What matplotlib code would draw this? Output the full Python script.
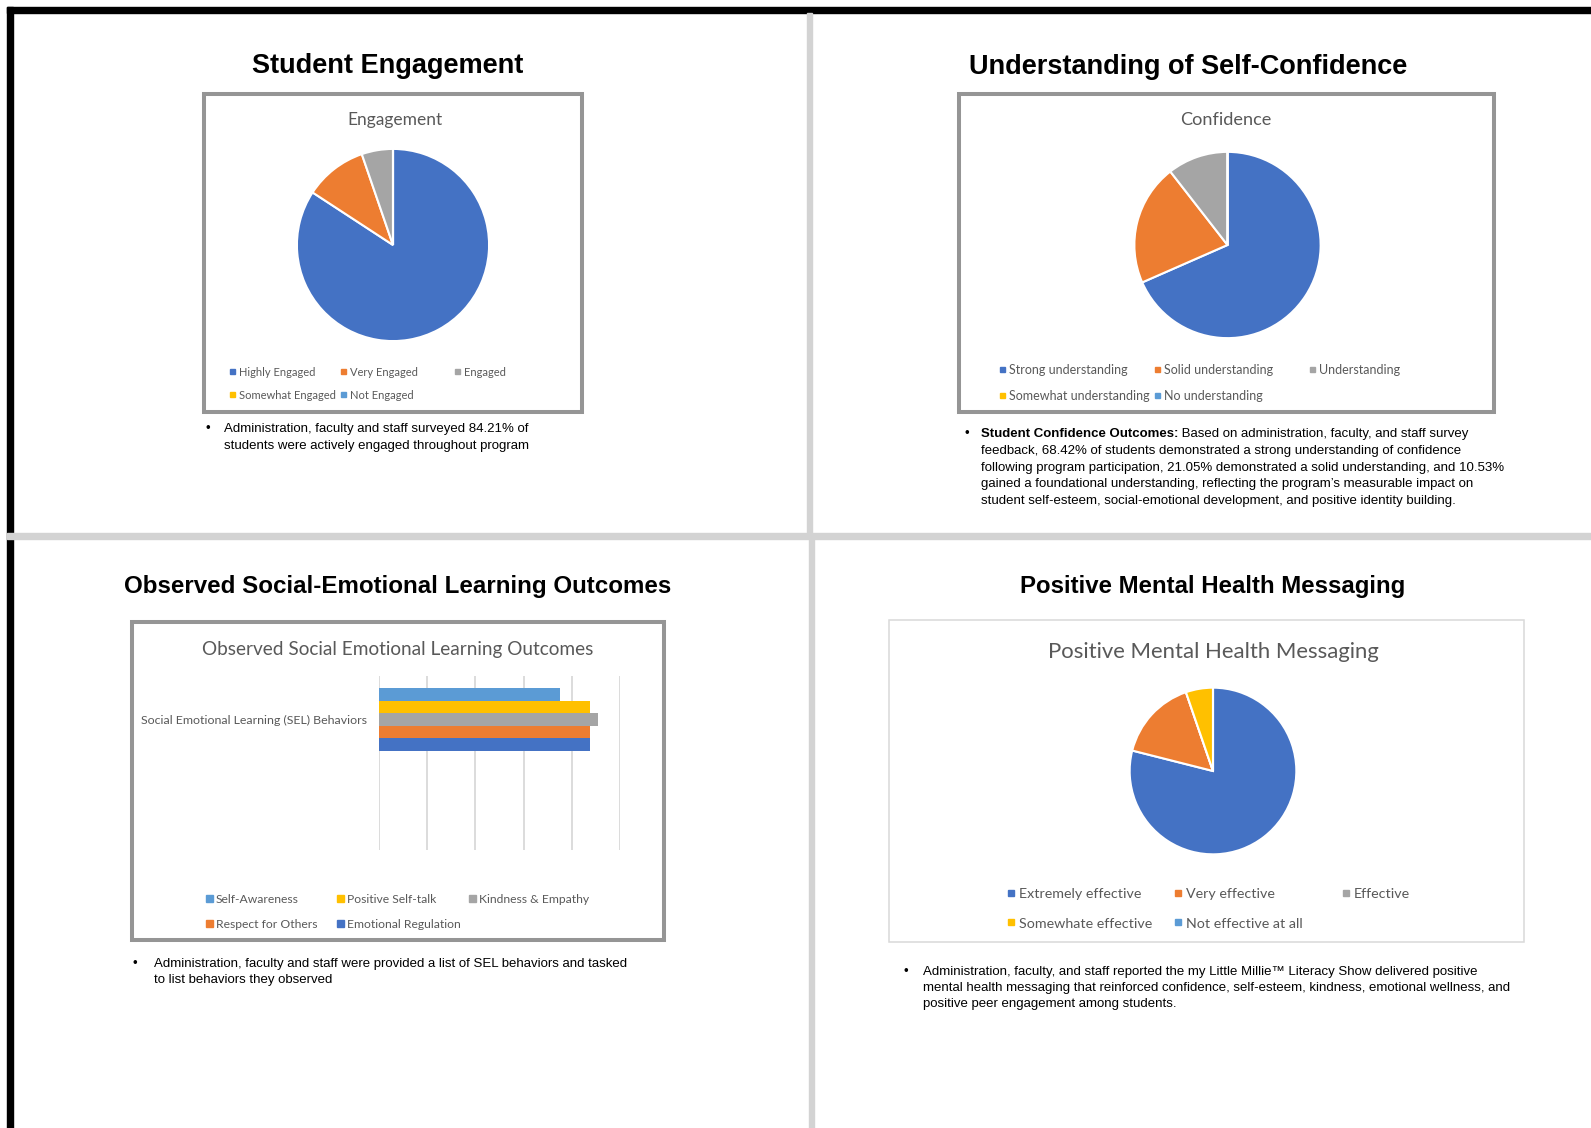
import matplotlib
matplotlib.use('Agg')
import matplotlib.pyplot as plt
from matplotlib.patches import Rectangle

# --- data ---
office_colors = ['#4472C4', '#ED7D31', '#A5A5A5', '#FFC000', '#5B9BD5']

engage_labels = ['Highly Engaged', 'Very Engaged', 'Engaged', 'Somewhat Engaged', 'Not Engaged']
engage_values = [16, 2, 1, 0, 0]

confidence_labels = ['Strong understanding', 'Solid understanding', 'Understanding',
                     'Somewhat understanding', 'No understanding']
confidence_values = [13, 4, 2, 0, 0]

sel_category = 'Social Emotional Learning (SEL) Behaviors'
sel_labels = ['Self-Awareness', 'Positive Self-talk', 'Kindness & Empathy',
              'Respect for Others', 'Emotional Regulation']
sel_values = [15, 17.5, 18.2, 17.5, 17.5]
sel_colors = ['#5B9BD5', '#FFC000', '#A5A5A5', '#ED7D31', '#4472C4']

messaging_labels = ['Extremely effective', 'Very effective', 'Effective',
                    'Somewhate effective', 'Not effective at all']
messaging_values = [15, 3, 0, 1, 0]

panel_titles = ['Student Engagement', 'Understanding of Self-Confidence',
                'Observed Social-Emotional Learning Outcomes', 'Positive Mental Health Messaging']

W, H = 1591, 1128
CHART_FONT = 'Lato'
BODY_FONT = 'Liberation Sans'
GREY_TXT = '#595959'

fig = plt.figure(figsize=(W / 100, H / 100), dpi=100)
bg = fig.add_axes([0, 0, 1, 1])
bg.set_xlim(0, W)
bg.set_ylim(H, 0)
bg.axis('off')
renderer = fig.canvas.get_renderer()


def fit_size(s, width, **kw):
    t = bg.text(0, 0, s, fontsize=10, **kw)
    w = t.get_window_extent(renderer).width
    t.remove()
    return 10 * width / w


def px_axes(x0, y0, x1, y1):
    return fig.add_axes([x0 / W, 1 - y1 / H, (x1 - x0) / W, (y1 - y0) / H])


# page frame and dividers
bg.add_patch(Rectangle((7, 7), W - 7, 6, color='black', zorder=1))
bg.add_patch(Rectangle((7, 7), 6, H - 7, color='black', zorder=1))
bg.add_patch(Rectangle((807, 13), 5, 520, color='#d3d3d3', zorder=1))
bg.add_patch(Rectangle((809, 539), 5, H - 539, color='#d3d3d3', zorder=1))
bg.add_patch(Rectangle((7, 533), W - 7, 6, color='#d3d3d3', zorder=2))

# panel titles
title_pos = [(388, 66, 272), (1188, 67, 440), (398, 586.5, 546), (1213, 586, 386)]
for s, (x, y, w) in zip(panel_titles, title_pos):
    fs = fit_size(s, w, family=BODY_FONT, weight='bold')
    bg.text(x, y, s, ha='center', va='center', fontsize=fs, family=BODY_FONT,
            weight='bold', color='black')

# chart boxes
bg.add_patch(Rectangle((203.5, 94), 378.5, 318, fill=False, ec='#959595', lw=2.9, zorder=3))
bg.add_patch(Rectangle((959, 94), 535, 318, fill=False, ec='#959595', lw=2.9, zorder=3))
bg.add_patch(Rectangle((131.5, 622), 532.5, 318, fill=False, ec='#959595', lw=2.9, zorder=3))
bg.add_patch(Rectangle((889, 620), 635, 322, fill=False, ec='#d9d9d9', lw=1.1, zorder=3))

# chart titles
chart_titles = [('Engagement', 395, 120, 95), ('Confidence', 1226, 120, 92),
                ('Observed Social Emotional Learning Outcomes', 397.5, 649, 393),
                ('Positive Mental Health Messaging', 1213, 652.5, 331)]
for s, x, y, w in chart_titles:
    fs = fit_size(s, w, family=CHART_FONT)
    bg.text(x, y, s, ha='center', va='center', fontsize=fs, family=CHART_FONT, color=GREY_TXT)


def draw_pie(values, cx, cy, r):
    ax = px_axes(cx - r, cy - r, cx + r, cy + r)
    ax.pie(values, colors=office_colors, startangle=90, counterclock=False, radius=1,
           wedgeprops=dict(edgecolor='white', linewidth=1.5))
    ax.set_xlim(-1.02, 1.02)
    ax.set_ylim(-1.02, 1.02)
    ax.set_aspect('equal')
    ax.axis('off')


draw_pie(engage_values, 393, 245, 98)
draw_pie(confidence_values, 1227.5, 245, 95)
draw_pie(messaging_values, 1213, 771, 85)

# bar chart
axb = px_axes(379, 676, 620, 850)
bar_h = 12.6 / 87
for i, (v, c) in enumerate(zip(sel_values, sel_colors)):
    axb.barh((i - 2) * bar_h, v, height=bar_h, color=c, edgecolor='none', zorder=3)
axb.set_xlim(0, 20)
axb.set_ylim(1.5, -0.5)
axb.set_xticks(range(0, 21, 4))
axb.grid(axis='x', color='#d9d9d9', lw=1.3)
axb.set_axisbelow(True)
for sp in axb.spines.values():
    sp.set_visible(False)
axb.patch.set_alpha(0)
axb.tick_params(axis='x', length=0, labelbottom=False)
axb.set_yticks([0])
cat_fs = fit_size(sel_category, 226, family=CHART_FONT)
axb.set_yticklabels([sel_category], fontsize=cat_fs, family=CHART_FONT, color=GREY_TXT)
axb.tick_params(axis='y', length=0, pad=8.6)


# legends (Excel style, row-first)
def draw_legend(labels, colors, xs, ys, ref_width, msize, gap):
    fs = fit_size(labels[0], ref_width, family=CHART_FONT)
    pos = [(xs[0], ys[0]), (xs[1], ys[0]), (xs[2], ys[0]), (xs[0], ys[1]), (xs[1], ys[1])]
    for lab, c, (x, y) in zip(labels, colors, pos):
        bg.add_patch(Rectangle((x - msize / 2, y - msize / 2), msize, msize, color=c, zorder=4))
        bg.text(x + gap, y + 1.5, lab, ha='left', va='center', fontsize=fs,
                family=CHART_FONT, color=GREY_TXT)


draw_legend(engage_labels, office_colors, [232, 343, 457], [371, 394], 76, 5, 7)
draw_legend(confidence_labels, office_colors, [1002, 1157, 1312], [369, 395], 119, 5, 7)
draw_legend(sel_labels, sel_colors, [209, 340, 472], [898, 923], 83, 7, 7)
draw_legend(messaging_labels, office_colors, [1011, 1178, 1346], [893, 922], 122.5, 6, 8)


# bullet paragraphs
def draw_bullets(lines, bx, tx, ys, fit_idx, fit_w, bold_lead=None):
    fs = fit_size(lines[fit_idx], fit_w, family=BODY_FONT)
    ys = [y + 2 for y in ys]
    bg.text(bx, ys[0], '\u2022', ha='center', va='center', fontsize=fs, family=BODY_FONT)
    for k, (s, y) in enumerate(zip(lines, ys)):
        x = tx
        if k == 0 and bold_lead:
            t = bg.text(x, y, bold_lead, ha='left', va='center', fontsize=fs,
                        family=BODY_FONT, weight='bold')
            x += t.get_window_extent(renderer).width
        bg.text(x, y, s, ha='left', va='center', fontsize=fs, family=BODY_FONT)


draw_bullets(['Administration, faculty and staff surveyed 84.21% of',
              'students were actively engaged throughout program'],
             208, 224, [427, 443.5], 0, 306)
draw_bullets([' Based on administration, faculty, and staff survey',
              'feedback, 68.42% of students demonstrated a strong understanding of confidence',
              'following program participation, 21.05% demonstrated a solid understanding, and 10.53%',
              'gained a foundational understanding, reflecting the program\u2019s measurable impact on',
              'student self-esteem, social-emotional development, and positive identity building.'],
             967, 981, [432, 449, 466, 482.5, 499], 1, 484,
             bold_lead='Student Confidence Outcomes:')
draw_bullets(['Administration, faculty and staff were provided a list of SEL behaviors and tasked',
              'to list behaviors they observed'],
             135, 154, [962, 978], 0, 476)
draw_bullets(['Administration, faculty, and staff reported the my Little Millie\u2122 Literacy Show delivered positive',
              'mental health messaging that reinforced confidence, self-esteem, kindness, emotional wellness, and',
              'positive peer engagement among students.'],
             906, 923, [970, 986, 1002.5], 0, 557)

fig.savefig('out.png', dpi=100)
